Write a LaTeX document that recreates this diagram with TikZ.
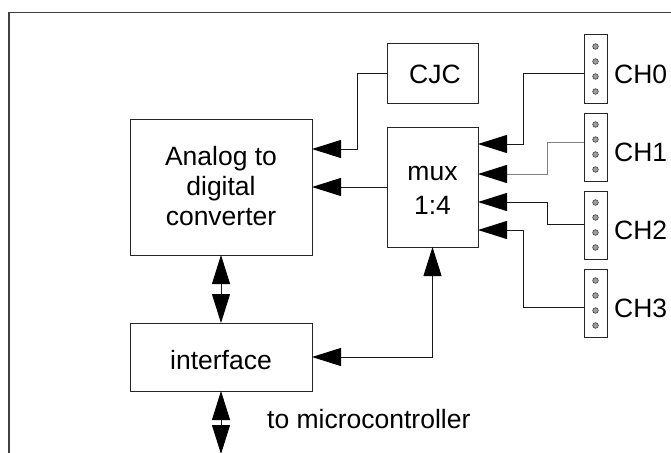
\documentclass[tikz,border=0pt]{standalone}
\usepackage{fontspec}
\setmainfont{Liberation Sans}
\usetikzlibrary{arrows.meta}
\begin{document}
\begin{tikzpicture}[x=1pt,y=-1pt,
  box/.style={draw=black!85, line width=1pt, inner sep=0pt, outer sep=0pt},
  lbl/.style={inner sep=0pt, anchor=base, font=\fontsize{26.5}{30}\selectfont},
  wire/.style={draw=black!90, line width=1pt},
  greywire/.style={draw=black!50, line width=1pt},
  tipend/.style={-{Triangle[length=29pt,width=18pt,black]}},
  tipboth/.style={{Triangle[length=29pt,width=18pt,black]}-{Triangle[length=29pt,width=18pt,black]}},
  dot/.style={fill=black!38, draw=black!75, line width=0.6pt},
  frame/.style={draw=black!75, line width=1.2pt}
]
\useasboundingbox (0,0) rectangle (671,452);
\draw[frame] (9,460) -- (9,12.7) -- (680,12.7);

% blocks
\node[box, minimum width=182pt, minimum height=136pt] (adc) at (221,187) {};
\node[box, minimum width=91pt, minimum height=59pt] (cjc) at (432.5,73.5) {};
\node[box, minimum width=91pt, minimum height=120pt] (mux) at (432.5,187) {};
\node[box, minimum width=182pt, minimum height=68pt] (iface) at (221,357) {};

% texts
\node[lbl] (adct1) at (221,165) {Analog to};
\node[lbl] (adct2) at (221,195) {digital};
\node[lbl] (adct3) at (221,225) {converter};
\node[lbl] (cjct) at (435,83.3) {CJC};
\node[lbl] (muxt1) at (432.5,180.7) {mux};
\node[lbl] (muxt2) at (432.5,214) {1:4};
\node[lbl] (ifacet) at (221,369.3) {interface};
\node[lbl, anchor=base west] (mcut) at (267,428) {to microcontroller};

% channel connectors
\foreach \i/\c in {0/69,1/147,2/225,3/303}{
  \node[box, minimum width=23pt, minimum height=68pt] (ch\i) at (595.5,\c) {};
  \foreach \d in {-22.5,-7.5,7.5,22.5}{
    \filldraw[dot] (595.5,\c+\d) circle[radius=2.8pt];
  }
  \node[lbl, anchor=base west] (ch\i t) at (614,\c+14) {CH\i};
}

% connections
\draw[wire,tipend] (cjc.west) -- (357,73.5) -- (357,149) -- (adc.east |- 0,149);
\draw[wire,tipend] (mux.west) -- (adc.east);
\draw[wire,tipend] (ch0.west |- 0,73) -- (523,73) -- (523,144) -- (mux.east |- 0,144);
\draw[greywire,tipend] (ch1.west |- 0,142) -- (547,142) -- (547,174) -- (mux.east |- 0,174);
\draw[wire,tipend] (ch2.west |- 0,224) -- (547,224) -- (547,202) -- (mux.east |- 0,202);
\draw[wire,tipend] (ch3.west |- 0,307) -- (523,307) -- (523,230) -- (mux.east |- 0,230);
\draw[wire,tipboth] (adc.south) -- (iface.north);
\draw[wire,tipboth] (iface.east) -- (mux.south |- iface.east) -- (mux.south);
\coordinate (mcu) at (221,454);
\draw[wire,tipboth] (iface.south) -- (mcu);
\end{tikzpicture}
\end{document}
